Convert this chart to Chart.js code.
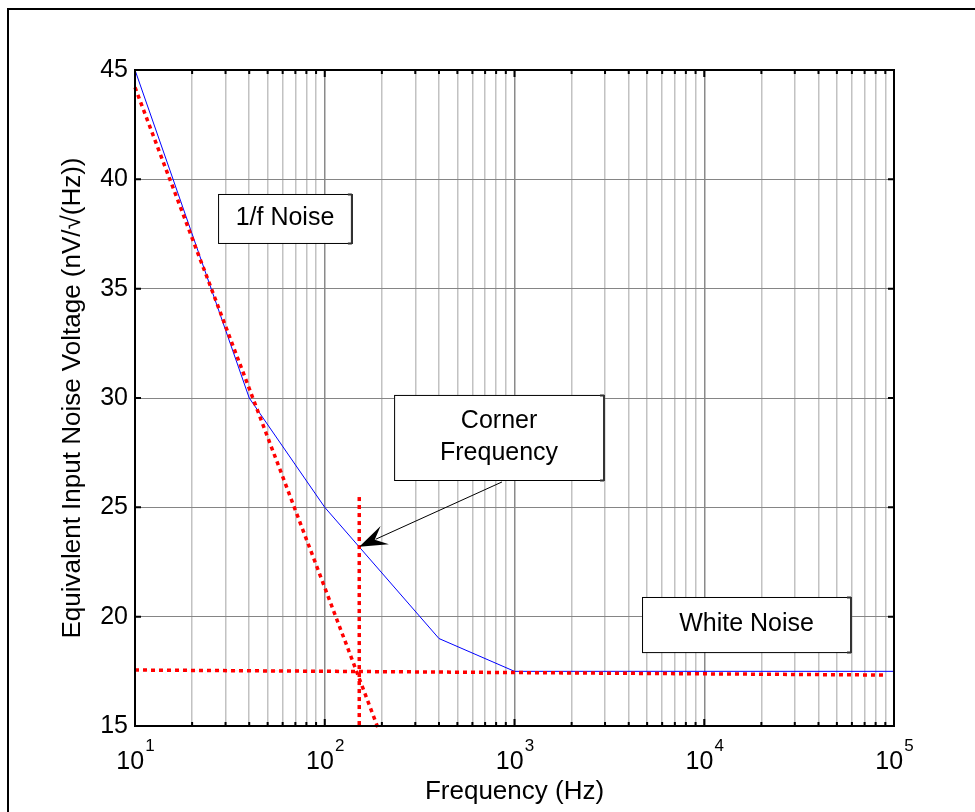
<!DOCTYPE html>
<html>
<head>
<meta charset="utf-8">
<script src="https://cdn.jsdelivr.net/npm/chart.js@4.4.1/dist/chart.umd.min.js"></script>
<style>
  html, body { margin: 0; padding: 0; background: #fff; }
  canvas { display: block; }
</style>
</head>
<body>
<canvas id="noiseChart" width="975" height="812"></canvas>
<script>
// measured noise curve (Hz -> nV/rtHz)
const freqHz = [10, 40, 100, 400, 1000, 100000];
const noiseNv = [45, 30, 25, 19, 17.5, 17.5];

// red dotted construction lines
const flickerFreq = [10, 193];
const flickerNv = [44.2, 14.8];
const whiteFreq = [10, 90800];
const whiteNv = [17.56, 17.33];
const cornerFreq = [152, 152];
const cornerNv = [25.47, 15];

const xDecades = [10, 100, 1000, 10000, 100000];
const xDecadeExp = ['1', '2', '3', '4', '5'];

// annotation boxes, [xLeft, xRight, yTop, yBottom] in data units
const notes = [
  { text: ['1/f Noise'], box: [27.4, 139, 39.33, 37.09] },
  { text: ['Corner', 'Frequency'], box: [232, 2963, 30.14, 26.25] },
  { text: ['White Noise'], box: [4700, 59350, 20.9, 18.38] },
];
const arrowFrom = [859, 26.16];
const arrowTo = [152, 23.2];

const FONT = '"Liberation Sans", Arial, sans-serif';

function toPoints(xs, ys) {
  return xs.map((x, i) => ({ x: x, y: ys[i] }));
}

const redLine = {
  borderColor: '#ff0000',
  borderWidth: 3.5,
  borderDash: [4, 4],
  pointRadius: 0,
  fill: false,
  tension: 0,
  clip: false
};

const frame = {
  id: 'frame',
  beforeDraw(chart) {
    const ctx = chart.ctx;
    ctx.save();
    ctx.strokeStyle = '#000';
    ctx.lineWidth = 2;
    ctx.beginPath();
    ctx.moveTo(8, 812);
    ctx.lineTo(8, 9);
    ctx.lineTo(975, 9);
    ctx.stroke();
    ctx.restore();
  },
  afterDatasetsDraw(chart) {
    const { ctx, chartArea: a, scales: { x, y } } = chart;
    ctx.save();
    ctx.strokeStyle = '#000';
    ctx.lineWidth = 2;
    ctx.strokeRect(a.left, a.top, a.right - a.left, a.bottom - a.top);
    ctx.beginPath();
    x.ticks.forEach(t => {
      const px = x.getPixelForValue(t.value);
      const len = t.major ? 7 : 4;
      ctx.moveTo(px, a.top); ctx.lineTo(px, a.top + len);
      ctx.moveTo(px, a.bottom); ctx.lineTo(px, a.bottom - len);
    });
    y.ticks.forEach(t => {
      const py = y.getPixelForValue(t.value);
      ctx.moveTo(a.left, py); ctx.lineTo(a.left + 6, py);
      ctx.moveTo(a.right, py); ctx.lineTo(a.right - 6, py);
    });
    ctx.stroke();
    ctx.restore();
  },
  afterDraw(chart) {
    const { ctx, chartArea: a, scales: { x, y } } = chart;
    ctx.save();

    // x tick labels with superscript exponents
    ctx.fillStyle = '#000';
    ctx.textBaseline = 'alphabetic';
    ctx.textAlign = 'left';
    xDecades.forEach((d, i) => {
      const px = x.getPixelForValue(d);
      ctx.font = '25px ' + FONT;
      const w1 = ctx.measureText('10').width;
      ctx.font = '17px ' + FONT;
      const w2 = ctx.measureText(xDecadeExp[i]).width;
      const x0 = px - (w1 + w2) / 2;
      ctx.font = '25px ' + FONT;
      ctx.fillText('10', x0, a.bottom + 43);
      ctx.font = '17px ' + FONT;
      ctx.fillText(xDecadeExp[i], x0 + w1 + 1, a.bottom + 25);
    });

    // arrow to the corner point
    const tx = x.getPixelForValue(arrowTo[0]), ty = y.getPixelForValue(arrowTo[1]);
    const fx = x.getPixelForValue(arrowFrom[0]), fy = y.getPixelForValue(arrowFrom[1]);
    const dx = fx - tx, dy = fy - ty, n = Math.hypot(dx, dy);
    const ux = dx / n, uy = dy / n, vx = -uy, vy = ux;
    ctx.strokeStyle = '#000';
    ctx.lineWidth = 1;
    ctx.beginPath();
    ctx.moveTo(fx, fy);
    ctx.lineTo(tx + ux * 18, ty + uy * 18);
    ctx.stroke();
    ctx.beginPath();
    ctx.moveTo(tx, ty);
    ctx.lineTo(tx + ux * 28 + vx * 10, ty + uy * 28 + vy * 10);
    ctx.lineTo(tx + ux * 17, ty + uy * 17);
    ctx.lineTo(tx + ux * 28 - vx * 10, ty + uy * 28 - vy * 10);
    ctx.closePath();
    ctx.fillStyle = '#000';
    ctx.fill();

    // text boxes
    notes.forEach(nt => {
      const l = x.getPixelForValue(nt.box[0]), r = x.getPixelForValue(nt.box[1]);
      const t = y.getPixelForValue(nt.box[2]), b = y.getPixelForValue(nt.box[3]);
      ctx.fillStyle = '#fff';
      ctx.fillRect(l, t, r - l, b - t);
      ctx.strokeStyle = '#000';
      ctx.lineWidth = 1;
      ctx.strokeRect(l + 0.5, t + 0.5, r - l, b - t);
      ctx.lineWidth = 2;
      ctx.strokeStyle = '#333';
      ctx.beginPath();
      ctx.moveTo(r, t); ctx.lineTo(r, b + 1);
      ctx.moveTo(r - 4, t + 0.5); ctx.lineTo(r, t + 0.5);
      ctx.moveTo(r - 4, b + 0.5); ctx.lineTo(r, b + 0.5);
      ctx.stroke();
      ctx.fillStyle = '#000';
      ctx.font = '25px ' + FONT;
      ctx.textAlign = 'center';
      ctx.textBaseline = 'middle';
      const cx = (l + r) / 2, cy = (t + b) / 2;
      const lh = 32;
      nt.text.forEach((s, k) => {
        ctx.fillText(s, cx, cy + (k - (nt.text.length - 1) / 2) * lh);
      });
    });
    ctx.restore();
  }
};

new Chart(document.getElementById('noiseChart').getContext('2d'), {
  type: 'line',
  data: {
    datasets: [
      Object.assign({ data: toPoints(flickerFreq, flickerNv) }, redLine),
      Object.assign({ data: toPoints(whiteFreq, whiteNv) }, redLine),
      Object.assign({ data: toPoints(cornerFreq, cornerNv) }, redLine),
      {
        data: toPoints(freqHz, noiseNv),
        borderColor: '#0000ff',
        borderWidth: 1,
        pointRadius: 0,
        fill: false,
        tension: 0
      }
    ]
  },
  options: {
    responsive: false,
    animation: false,
    devicePixelRatio: 1,
    layout: { padding: { left: 47, top: 70, right: 81, bottom: 0 } },
    plugins: { legend: { display: false }, tooltip: { enabled: false } },
    scales: {
      x: {
        type: 'logarithmic',
        min: 10,
        max: 100000,
        afterBuildTicks(scale) {
          const t = [];
          xDecades.forEach((d, i) => {
            const top = i === xDecades.length - 1 ? 1 : 9;
            for (let m = 1; m <= top; m++) t.push({ value: d * m, major: m === 1 });
          });
          scale.ticks = t;
        },
        afterFit(scale) { scale.height = 86; },
        ticks: { display: false },
        border: { display: false },
        grid: {
          drawTicks: false,
          lineWidth: 1.5,
          color: c => (c.tick && c.tick.major ? '#8a8a8a' : '#c2c2c2')
        },
        title: {
          display: true,
          text: 'Frequency (Hz)',
          color: '#000',
          font: { family: FONT, size: 26 },
          padding: { top: 0, bottom: 5 }
        }
      },
      y: {
        type: 'linear',
        min: 15,
        max: 45,
        afterFit(scale) { scale.width = 88; },
        ticks: {
          stepSize: 5,
          color: '#000',
          padding: 7,
          font: { family: FONT, size: 25 }
        },
        border: { display: false },
        grid: { drawTicks: false, lineWidth: 1, color: '#858585' },
        title: {
          display: true,
          text: 'Equivalent Input Noise Voltage (nV/\u221A(Hz))',
          color: '#000',
          font: { family: FONT, size: 26 },
          padding: { top: 10, bottom: 0 }
        }
      }
    }
  },
  plugins: [frame]
});
</script>
</body>
</html>
